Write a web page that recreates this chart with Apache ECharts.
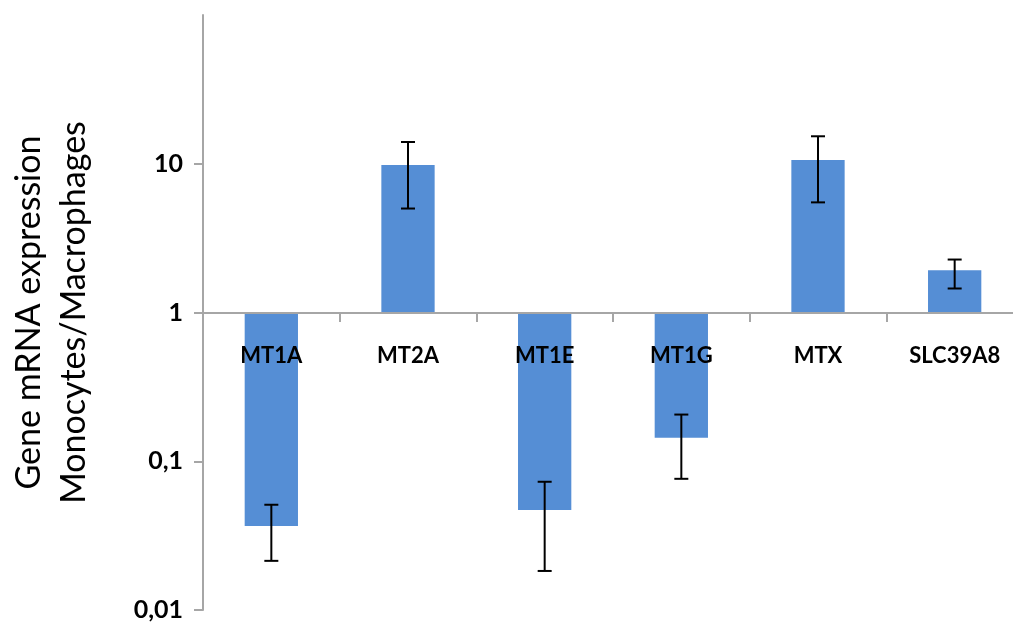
<!DOCTYPE html>
<html>
<head>
<meta charset="utf-8">
<title>Gene mRNA expression</title>
<script src="https://cdn.jsdelivr.net/npm/echarts@6/dist/echarts.min.js"></script>
<style>
  html, body { margin: 0; padding: 0; background: #fff; }
  #chart { width: 1013px; height: 624px; }
</style>
</head>
<body>
<div id="chart"></div>
<script>
// genes on the x axis
const genes = ["MT1A", "MT2A", "MT1E", "MT1G", "MTX", "SLC39A8"];
// fold change (monocytes / macrophages)
const ratio = [0.0367, 9.8, 0.047, 0.144, 10.6, 1.92];
// error bar ends
const errLow = [0.0214, 5.0, 0.0183, 0.0762, 5.5, 1.45];
const errHigh = [0.051, 14.0, 0.0728, 0.206, 15.3, 2.27];
// labelled ticks of the log axis
const yTicks = [0.01, 0.1, 1, 10];

const chart = echarts.init(document.getElementById("chart"));

const axisGrey = "#a6a6a6";
const font = "Lato, 'Liberation Sans', sans-serif";

chart.setOption({
  animation: false,
  grid: {
    left: 203,
    right: -10,
    top: 15,
    bottom: 14,
    outerBoundsMode: "none",
  },
  xAxis: {
    type: "category",
    data: genes,
    position: "bottom",
    offset: -297,
    z: 10,
    axisLine: { lineStyle: { color: axisGrey, width: 2 } },
    axisTick: { show: true, length: 9, lineStyle: { color: axisGrey, width: 2 } },
    axisLabel: {
      margin: 32,
      color: "#000",
      fontFamily: font,
      fontWeight: "bold",
      fontSize: 22,
    },
  },
  yAxis: {
    type: "log",
    logBase: 10,
    min: 0.01,
    max: 100,
    name: "Gene mRNA expression\nMonocytes/Macrophages",
    nameLocation: "middle",
    nameGap: 106,
    nameTextStyle: {
      color: "#000",
      fontFamily: font,
      fontSize: 34,
      lineHeight: 45,
    },
    splitLine: { show: false },
    axisLine: { show: true, lineStyle: { color: axisGrey, width: 2 } },
    axisTick: {
      show: true,
      length: 9,
      customValues: yTicks,
      lineStyle: { color: axisGrey, width: 2 },
    },
    axisLabel: {
      customValues: yTicks,
      margin: 20,
      color: "#000",
      fontFamily: font,
      fontWeight: "bold",
      fontSize: 25,
      formatter: (v) => String(v).replace(".", ","),
    },
  },
  series: [
    {
      type: "bar",
      data: ratio,
      barWidth: "39%",
      itemStyle: { color: "#558ed5" },
    },
    {
      type: "custom",
      data: genes.map((g, i) => [i, errLow[i], errHigh[i]]),
      z: 10,
      renderItem: (params, api) => {
        const lo = api.coord([api.value(0), api.value(1)]);
        const hi = api.coord([api.value(0), api.value(2)]);
        const cap = 7;
        const style = { stroke: "#000", lineWidth: 2 };
        return {
          type: "group",
          children: [
            { type: "line", shape: { x1: lo[0], y1: lo[1], x2: hi[0], y2: hi[1] }, style },
            { type: "line", shape: { x1: hi[0] - cap, y1: hi[1], x2: hi[0] + cap, y2: hi[1] }, style },
            { type: "line", shape: { x1: lo[0] - cap, y1: lo[1], x2: lo[0] + cap, y2: lo[1] }, style },
          ],
        };
      },
    },
  ],
});
</script>
</body>
</html>
